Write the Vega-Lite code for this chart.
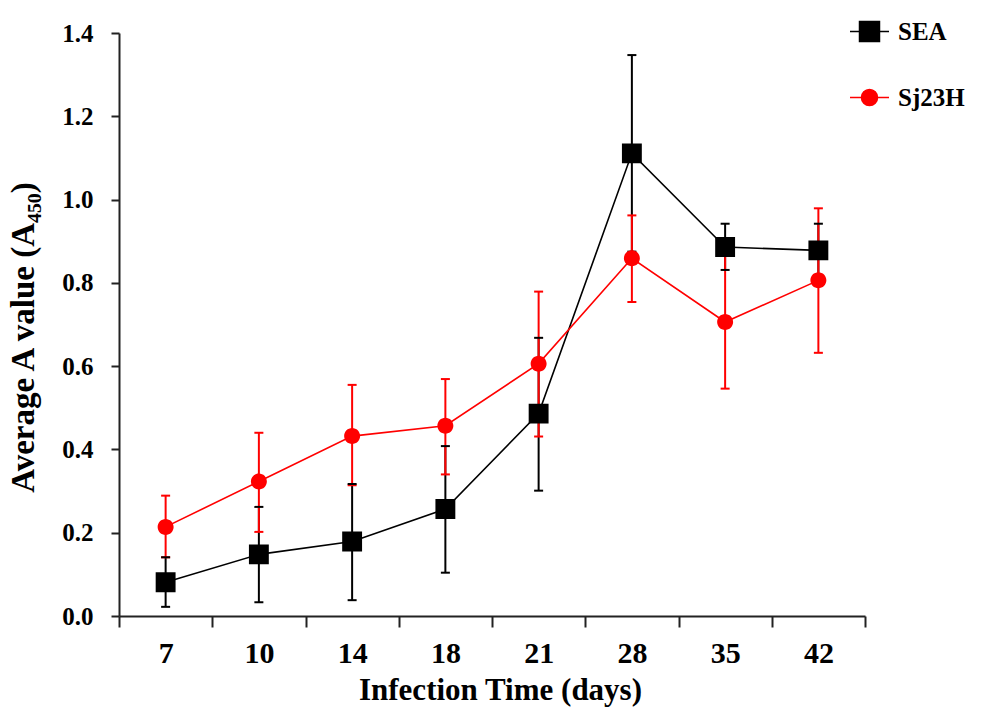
{
  "$schema": "https://vega.github.io/schema/vega-lite/v6.json",
  "width": 746,
  "height": 583,
  "autosize": {"type": "none"},
  "padding": {"left": 119, "top": 33, "right": 142, "bottom": 100},
  "background": "white",
  "config": {
    "view": {"stroke": null},
    "font": "Liberation Serif"
  },
  "data": {
    "values": [
      {"day": "7", "series": "SEA", "mean": 0.081, "lower": 0.022, "upper": 0.141},
      {"day": "10", "series": "SEA", "mean": 0.148, "lower": 0.033, "upper": 0.262},
      {"day": "14", "series": "SEA", "mean": 0.179, "lower": 0.038, "upper": 0.317},
      {"day": "18", "series": "SEA", "mean": 0.257, "lower": 0.104, "upper": 0.408},
      {"day": "21", "series": "SEA", "mean": 0.486, "lower": 0.301, "upper": 0.668},
      {"day": "28", "series": "SEA", "mean": 1.111, "lower": 0.875, "upper": 1.347},
      {"day": "35", "series": "SEA", "mean": 0.886, "lower": 0.831, "upper": 0.942},
      {"day": "42", "series": "SEA", "mean": 0.878, "lower": 0.814, "upper": 0.942},
      {"day": "7", "series": "Sj23H", "mean": 0.214, "lower": 0.141, "upper": 0.289},
      {"day": "10", "series": "Sj23H", "mean": 0.323, "lower": 0.202, "upper": 0.440},
      {"day": "14", "series": "Sj23H", "mean": 0.432, "lower": 0.314, "upper": 0.555},
      {"day": "18", "series": "Sj23H", "mean": 0.457, "lower": 0.340, "upper": 0.569},
      {"day": "21", "series": "Sj23H", "mean": 0.606, "lower": 0.431, "upper": 0.779},
      {"day": "28", "series": "Sj23H", "mean": 0.859, "lower": 0.754, "upper": 0.962},
      {"day": "35", "series": "Sj23H", "mean": 0.706, "lower": 0.546, "upper": 0.866},
      {"day": "42", "series": "Sj23H", "mean": 0.806, "lower": 0.632, "upper": 0.979}
    ]
  },
  "encoding": {
    "x": {
      "field": "day",
      "type": "ordinal",
      "sort": ["7", "10", "14", "18", "21", "28", "35", "42"],
      "scale": {"type": "band", "paddingInner": 0, "paddingOuter": 0},
      "axis": {
        "title": "Infection Time (days)",
        "labelAngle": 0,
        "tickBand": "extent",
        "tickSize": 11,
        "tickWidth": 2,
        "tickColor": "#222",
        "domainColor": "#222",
        "domainWidth": 2,
        "labelFont": "Liberation Serif",
        "labelFontWeight": "bold",
        "labelFontSize": 30,
        "labelColor": "black",
        "labelPadding": 11,
        "titleFont": "Liberation Serif",
        "titleFontWeight": "bold",
        "titleFontSize": 31,
        "titleColor": "black",
        "titleX": 381,
        "titleY": 74,
        "titleBaseline": "middle",
        "grid": false
      }
    }
  },
  "layer": [
    {
      "mark": {"type": "rule", "strokeWidth": 2},
      "encoding": {
        "color": {
          "field": "series",
          "type": "nominal",
          "scale": {"range": ["#000000", "#ff0000"]},
          "legend": null
        },
        "y": {
          "field": "lower",
          "type": "quantitative",
          "scale": {"domain": [0, 1.4], "nice": false, "zero": false},
          "axis": {
            "title": "Average A value (A₄₅₀)",
            "values": [0, 0.2, 0.4, 0.6, 0.8, 1.0, 1.2, 1.4],
            "format": ".1f",
            "tickSize": 8,
            "tickWidth": 2,
            "tickColor": "#222",
            "domainColor": "#222",
            "domainWidth": 2,
            "labelFont": "Liberation Serif",
            "labelFontWeight": "bold",
            "labelFontSize": 25,
            "labelColor": "black",
            "labelPadding": 18,
            "titleFont": "Liberation Serif",
            "titleFontWeight": "bold",
            "titleFontSize": 33,
            "titleColor": "black",
            "titleX": -96,
            "titleY": 304,
            "titleBaseline": "middle",
            "grid": false
          }
        },
        "y2": {"field": "upper"}
      }
    },
    {
      "mark": {"type": "tick", "size": 9, "thickness": 2, "opacity": 1},
      "encoding": {
        "color": {"field": "series", "type": "nominal", "legend": null},
        "y": {"field": "lower", "type": "quantitative"}
      }
    },
    {
      "mark": {"type": "tick", "size": 9, "thickness": 2, "opacity": 1},
      "encoding": {
        "color": {"field": "series", "type": "nominal", "legend": null},
        "y": {"field": "upper", "type": "quantitative"}
      }
    },
    {
      "mark": {"type": "line", "strokeWidth": 1.6},
      "encoding": {
        "color": {"field": "series", "type": "nominal", "legend": null},
        "y": {"field": "mean", "type": "quantitative"}
      }
    },
    {
      "mark": {"type": "point", "filled": true, "opacity": 1, "size": 1521, "strokeWidth": 0},
      "encoding": {
        "y": {"field": "mean", "type": "quantitative"},
        "fill": {
          "field": "series",
          "type": "nominal",
          "scale": {"domain": ["SEA", "Sj23H"], "range": ["#000000", "#ff0000"]},
          "legend": {
            "title": null,
            "orient": "none",
            "legendX": 730,
            "legendY": -22,
            "padding": 0,
            "symbolSize": 1521,
            "symbolOpacity": 1,
            "symbolStrokeWidth": 1.6,
            "labelFont": "Liberation Serif",
            "labelFontWeight": "bold",
            "labelFontSize": 25,
            "labelColor": "black",
            "labelOffset": 8,
            "rowPadding": 32,
            "encode": {
              "symbols": {
                "update": {
                  "stroke": {"scale": "fill", "field": "value"},
                  "fill": {"scale": "fill", "field": "value"},
                  "strokeWidth": {"value": 1.6},
                  "opacity": {"value": 1}
                }
              }
            }
          }
        },
        "shape": {
          "field": "series",
          "type": "nominal",
          "scale": {
            "domain": ["SEA", "Sj23H"],
            "range": [
              "M-1,0H1M-0.51,-0.51H0.51V0.51H-0.51Z",
              "M-1,0H1M0.41,0A0.41,0.41,0,1,1,-0.41,0A0.41,0.41,0,1,1,0.41,0Z"
            ]
          },
          "legend": {
            "title": null,
            "orient": "none",
            "legendX": 730,
            "legendY": -22,
            "padding": 0,
            "symbolSize": 1521,
            "labelFont": "Liberation Serif",
            "labelFontWeight": "bold",
            "labelFontSize": 25,
            "labelColor": "black",
            "labelOffset": 8,
            "rowPadding": 32
          }
        }
      }
    }
  ]
}
